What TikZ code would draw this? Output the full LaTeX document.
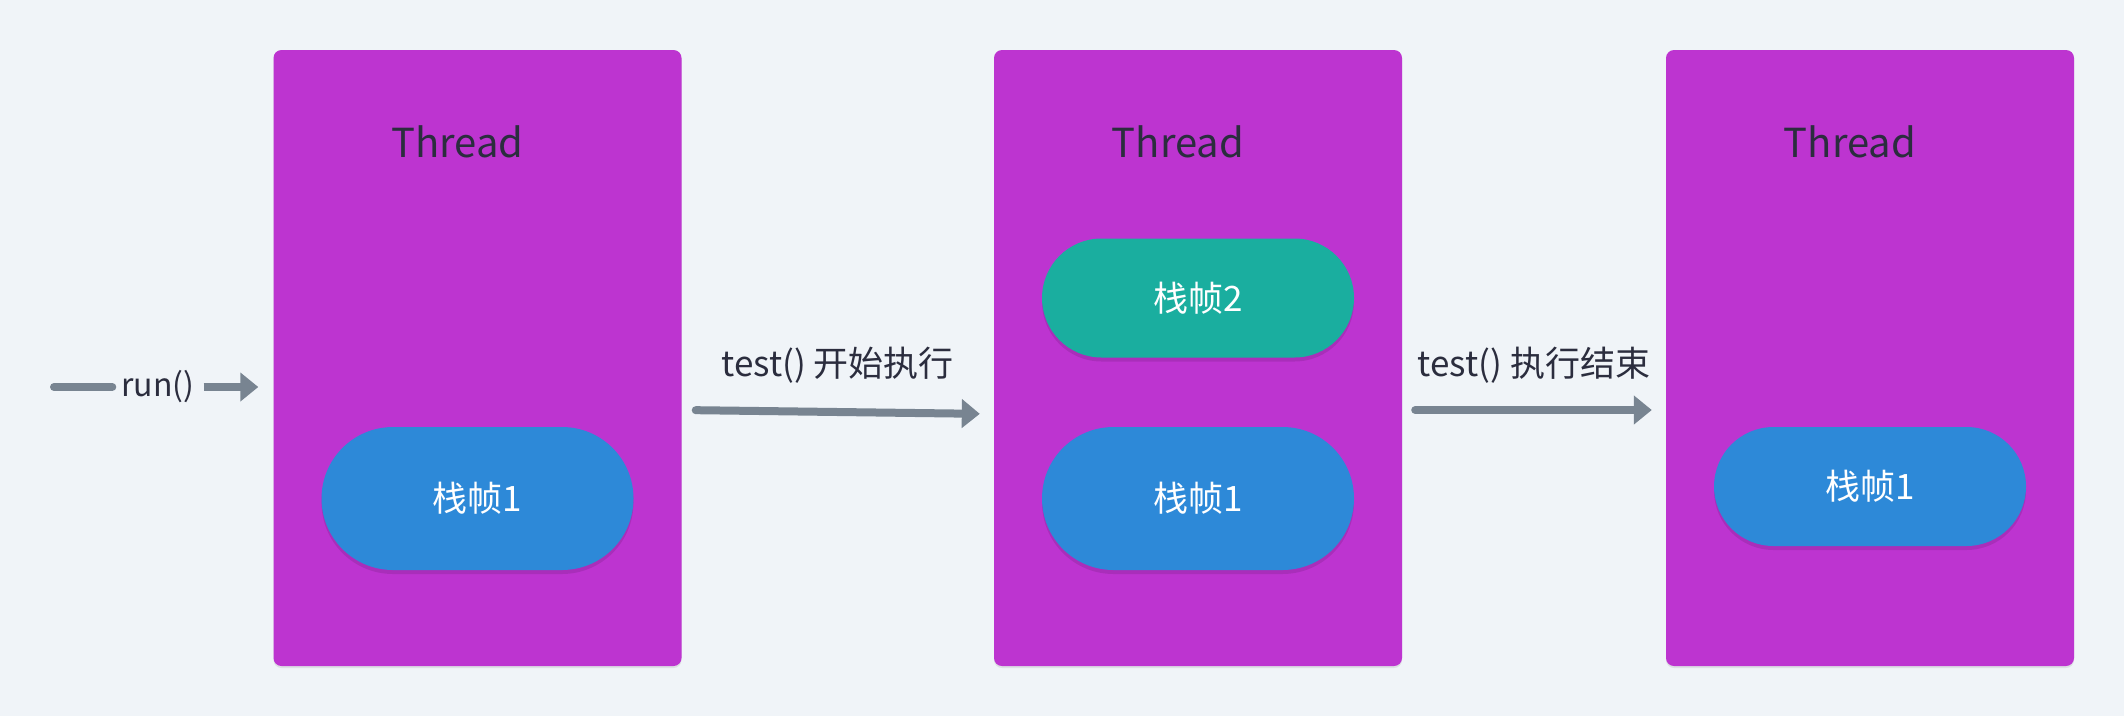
\documentclass[tikz,border=0pt]{standalone}
\usepackage{fontspec}
\setmainfont{Noto Sans CJK SC}
\usepackage{tikz}
\usetikzlibrary{arrows.meta,shadows}

\definecolor{bgcol}{HTML}{F0F4F8}
\definecolor{threadcol}{HTML}{BD34D0}
\definecolor{bluecol}{HTML}{2D89D8}
\definecolor{tealcol}{HTML}{1AAE9F}
\definecolor{arrowcol}{HTML}{788491}
\definecolor{labcol}{HTML}{2B2D3E}

\begin{document}
\begin{tikzpicture}[x=1pt,y=-1pt,
	thread/.style={rectangle, fill=threadcol, rounded corners=8pt, inner sep=0, minimum width=408pt, minimum height=616pt,
		drop shadow={shadow xshift=0pt, shadow yshift=-2pt, opacity=0.08, fill=black}},
	tlab/.style={inner sep=0, text=labcol, font=\fontsize{40}{48}\selectfont},
	frame/.style={rectangle, inner sep=0, minimum width=312pt, text=white, font=\fontsize{35}{42}\selectfont,
		drop shadow={shadow xshift=0pt, shadow yshift=-4pt, opacity=0.1, fill=black}},
	lab/.style={inner sep=0, text=labcol, font=\fontsize{35}{42}\selectfont},
	flow/.style={line width=8pt, draw=arrowcol, -{Triangle[length=18pt,width=28pt]}}]

	%background
	\fill[bgcol] (0,0) rectangle (2124,716);
	\useasboundingbox (0,0) rectangle (2124,716);

	%threads
	\foreach \i/\x in {1/477.5, 2/1198, 3/1870} {
		\node[thread] at (\x,358) (t\i) {};
		\node[tlab] at ([xshift=-20pt,yshift=-92pt]t\i.north) (tl\i) {Thread};
	}

	%stack frames
	\node[frame, fill=bluecol, minimum height=143pt, rounded corners=71.5pt] at ([yshift=-140.5pt]t1.center) (f11) {栈帧1};
	\node[frame, fill=bluecol, minimum height=143pt, rounded corners=71.5pt] at ([yshift=-140.5pt]t2.center) (f21) {栈帧1};
	\node[frame, fill=tealcol, minimum height=119pt, rounded corners=59.5pt] at ([yshift=60pt]t2.center) (f22) {栈帧2};
	\node[frame, fill=bluecol, minimum height=119pt, rounded corners=59.5pt] at ([yshift=-128.5pt]t3.center) (f31) {栈帧1};

	%run()
	\coordinate (rs) at (54,387);
	\node[lab, inner sep=9pt, font=\fontsize{32}{38}\selectfont] at (158,387) (run) {run()};
	\draw[line width=8pt, arrowcol, line cap=round] (rs) -- (run.west);
	\draw[flow, shorten >=15pt] (run.east) -- (run -| t1.west);

	%calls
	\draw[flow, line cap=round, shorten <=14pt, shorten >=14pt] ([yshift=-52pt]t1.east) -- ([yshift=-56pt]t2.west)
		node[lab, midway, yshift=47pt] (l1) {test() 开始执行};
	\draw[flow, line cap=round, shorten <=13pt, shorten >=14pt] ([yshift=-52pt]t2.east) -- ([yshift=-52pt]t3.west)
		node[lab, midway, yshift=45pt] (l2) {test() 执行结束};
\end{tikzpicture}
\end{document}
